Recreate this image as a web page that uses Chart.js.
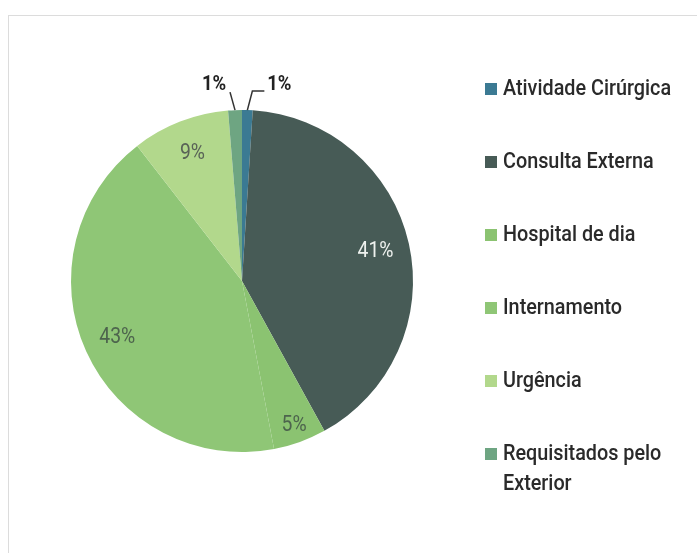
<!DOCTYPE html>
<html>
<head>
<meta charset="utf-8">
<script src="https://cdn.jsdelivr.net/npm/chart.js@4"></script>
<style>
  body { margin: 0; background: #fff; }
  #wrap { position: relative; width: 697px; height: 553px; overflow: hidden; }
  #frame { position: absolute; left: 8px; top: 15px; width: 720px; height: 600px; border: 1px solid #dcdcdc; }
  #chart { position: absolute; left: 0; top: 0; }
  #legend { position: absolute; left: 485px; top: 73px; width: 240px;
    font-family: "Roboto", sans-serif; font-weight: 500; font-size: 22px; color: #2a2a2a; }
  .item { display: flex; align-items: flex-start; line-height: 30px; margin-bottom: 43px; }
  .box { width: 12px; height: 12px; margin-top: 10px; margin-right: 6px; flex: none; }
  .txt { width: 205px; transform: scaleX(0.9); transform-origin: left top; }
</style>
</head>
<body>
<div id="wrap">
  <div id="frame"></div>
  <canvas id="chart" width="697" height="553"></canvas>
  <div id="legend"></div>
</div>
<script>
const categories = ['Atividade Cirúrgica', 'Consulta Externa', 'Hospital de dia', 'Internamento', 'Urgência', 'Requisitados pelo Exterior'];
const shares = [1.0, 41.0, 5.0, 42.5, 9.2, 1.3];
const colors = ['#3b7a93', '#475b56', '#8bc371', '#8fc676', '#b2d88c', '#6ea582'];
const labelColors = ['#222', '#eef1ee', '#4d644d', '#4d644d', '#596357', '#222'];

const legend = document.getElementById('legend');
categories.forEach((name, i) => {
  const row = document.createElement('div');
  row.className = 'item';
  row.innerHTML = `<span class="box" style="background:${colors[i]}"></span><span class="txt">${name}</span>`;
  legend.appendChild(row);
});

function narrowText(ctx, text, x, y) {
  ctx.save();
  ctx.translate(x, y);
  ctx.scale(0.88, 1);
  ctx.fillText(text, 0, 0);
  ctx.restore();
}

// percentage labels, small slices get a leader line outside the pie
const pieLabels = {
  id: 'pieLabels',
  afterDatasetsDraw(chart) {
    const ctx = chart.ctx;
    const meta = chart.getDatasetMeta(0);
    const total = shares.reduce((a, b) => a + b, 0);
    ctx.save();
    ctx.textAlign = 'center';
    ctx.textBaseline = 'middle';
    meta.data.forEach((arc, i) => {
      const p = arc.getProps(['x', 'y', 'startAngle', 'endAngle', 'outerRadius']);
      const mid = (p.startAngle + p.endAngle) / 2;
      const pct = Math.round(shares[i] / total * 100) + '%';
      ctx.fillStyle = labelColors[i];
      if (shares[i] < 2) {
        const ex = p.x + Math.cos(mid) * p.outerRadius;
        const ey = p.y + Math.sin(mid) * p.outerRadius;
        const side = Math.cos(mid) >= 0 ? 1 : -1;
        ctx.strokeStyle = '#333';
        ctx.lineWidth = 1.5;
        ctx.beginPath();
        ctx.moveTo(ex, ey);
        if (side > 0) {
          ctx.lineTo(ex + 5, ey - 19);
          ctx.lineTo(ex + 17, ey - 19);
        } else {
          ctx.lineTo(ex - 5, ey - 18);
        }
        ctx.stroke();
        ctx.font = 'bold 21px Roboto, sans-serif';
        narrowText(ctx, pct, side > 0 ? ex + 32 : ex - 21, ey - 25);
      } else {
        const f = shares[i] < 6 ? 0.9 : 0.8;
        ctx.font = '22px Roboto, sans-serif';
        narrowText(ctx, pct, p.x + Math.cos(mid) * p.outerRadius * f, p.y + Math.sin(mid) * p.outerRadius * f);
      }
    });
    ctx.restore();
  }
};

new Chart(document.getElementById('chart'), {
  type: 'pie',
  data: {
    labels: categories,
    datasets: [{ data: shares, backgroundColor: colors, borderWidth: 0 }]
  },
  options: {
    responsive: false,
    animation: false,
    layout: { padding: { left: 71, right: 284, top: 110, bottom: 101 } },
    plugins: { legend: { display: false }, tooltip: { enabled: false } }
  },
  plugins: [pieLabels]
});
</script>
</body>
</html>
